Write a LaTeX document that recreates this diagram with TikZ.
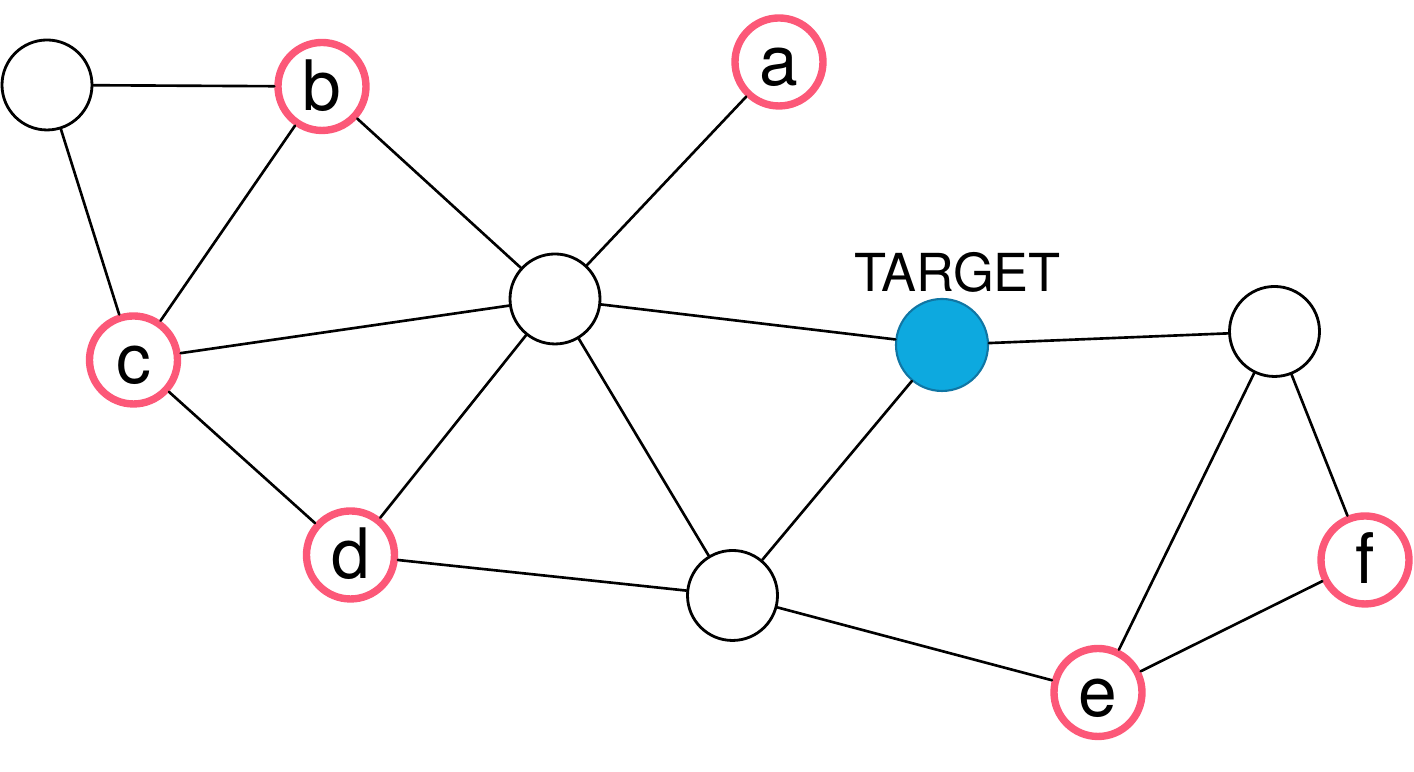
\documentclass[tikz,border=0pt]{standalone}
\usepackage{fontspec}
\setmainfont{TeX Gyre Heros}
\definecolor{ringpink}{RGB}{252,88,120}
\definecolor{targetblue}{RGB}{13,169,223}
\definecolor{targetedge}{RGB}{16,118,164}
\begin{document}
\begin{tikzpicture}[line cap=round,
 vtx/.style={circle,draw,line width=.8pt,fill=white,minimum size=.9cm,inner sep=0pt},
 hit/.style={vtx,draw=ringpink,line width=2.1pt,minimum size=.88cm,
  font=\fontsize{19.8}{20}\selectfont,text height=.48cm,text depth=0cm},
 edge/.style={line width=.75pt}]
 \useasboundingbox (0,0) rectangle (14.14,7.72);
 % plain vertices
 \node[vtx] (u1) at (.47,6.87) {};
 \node[vtx] (hub) at (5.55,4.73) {};
 \node[vtx] (low) at (7.325,1.765) {};
 \node[vtx] (rt) at (12.745,4.405) {};
 % marked vertices
 \node[hit] (a) at (7.79,7.10) {a};
 \node[hit] (b) at (3.22,6.855) {b};
 \node[hit] (c) at (1.335,4.12) {c};
 \node[hit] (d) at (3.505,2.17) {d};
 \node[hit] (e) at (10.98,0.795) {e};
 \node[hit] (f) at (13.65,2.12) {f};
 \node[circle,draw=targetedge,fill=targetblue,line width=.6pt,
  minimum size=.92cm,inner sep=0pt] (tgt) at (9.42,4.27) {};
 \node[font=\fontsize{14.9}{16}\selectfont,inner sep=0pt] (tlab) at (9.575,5.00) {TARGET};
 % connections
 \foreach \p/\q in {u1/b,u1/c,b/c,b/hub,a/hub,c/hub,c/d,d/hub,
  hub/tgt,hub/low,d/low,tgt/low,tgt/rt,rt/e,rt/f,low/e,e/f}
  \draw[edge] (\p) -- (\q);
\end{tikzpicture}
\end{document}
